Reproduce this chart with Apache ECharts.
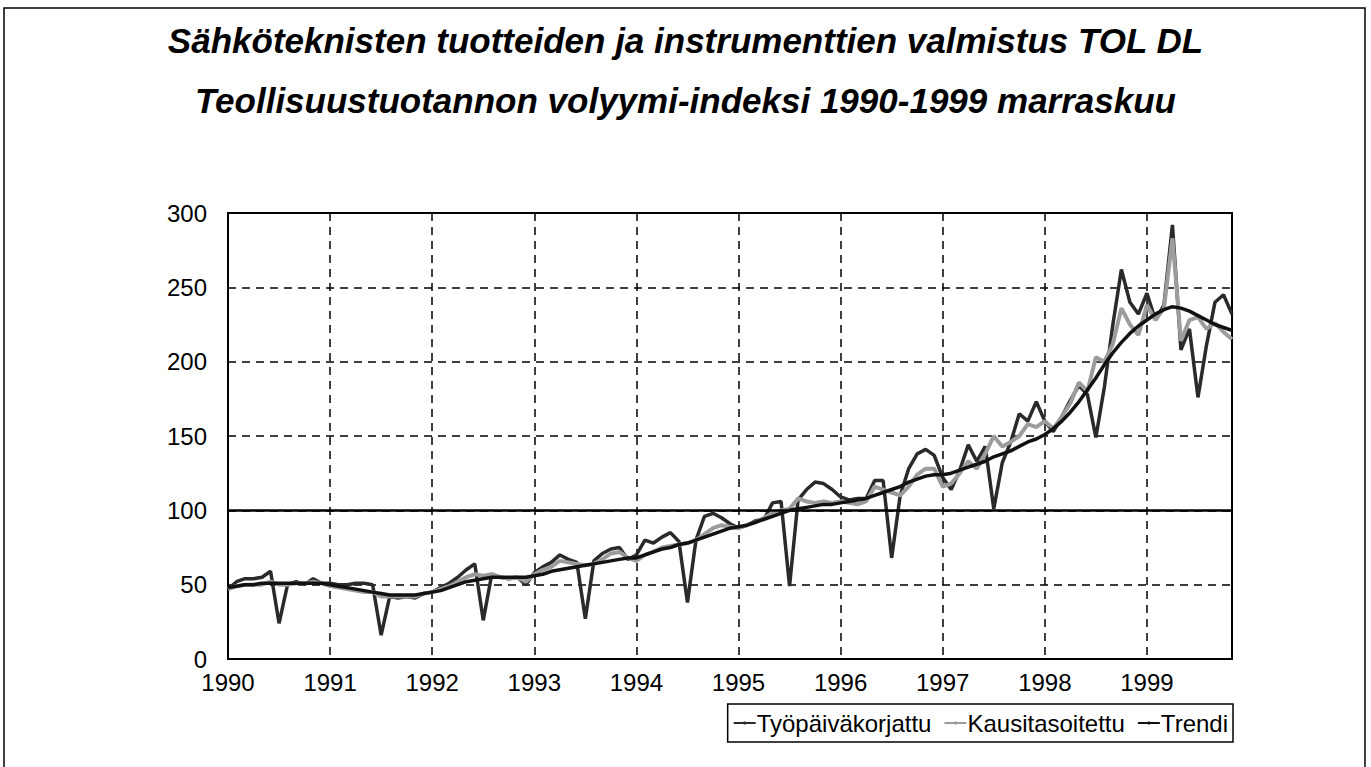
<!DOCTYPE html>
<html>
<head>
<meta charset="utf-8">
<script src="https://cdn.jsdelivr.net/npm/echarts@6/dist/echarts.min.js"></script>
<style>
  html, body { margin: 0; padding: 0; background: #fff; }
  #chart { width: 1371px; height: 767px; }
</style>
</head>
<body>
<div id="chart"></div>
<script>
// ---- data ----
const titleLine1 = 'Sähköteknisten tuotteiden ja instrumenttien valmistus TOL DL';
const titleLine2 = 'Teollisuustuotannon volyymi-indeksi 1990-1999 marraskuu';
const yearLabels = ['1990','1991','1992','1993','1994','1995','1996','1997','1998','1999'];
const monthsInLastYear = 11; // data ends November 1999
const seriesNames = ['Työpäiväkorjattu', 'Kausitasoitettu', 'Trendi'];
const yTicks = [0, 50, 100, 150, 200, 250, 300];

const tyopaivakorjattu = [
  47, 52, 54, 54, 55, 59, 24, 50, 52, 50, 54, 51,
  51, 50, 50, 51, 51, 50, 16, 42, 41, 42, 41, 44,
  45, 48, 51, 55, 60, 64, 26, 57, 55, 54, 55, 50,
  58, 62, 65, 70, 67, 65, 27, 66, 71, 74, 75, 67,
  70, 80, 78, 82, 85, 79, 38, 80, 96, 98, 95, 91,
  88, 90, 93, 94, 105, 106, 49, 107, 114, 119, 118, 114,
  109, 107, 108, 108, 120, 120, 68, 110, 128, 138, 141, 137,
  122, 114, 127, 144, 133, 143, 101, 132, 146, 165, 160, 173,
  160, 153, 163, 174, 184, 178, 149, 183, 225, 262, 240, 232,
  246, 228, 238, 292, 208, 222, 176, 211, 240, 245, 232
];
const kausitasoitettu = [
  47, 49, 50, 50, 50, 52, 50, 50, 51, 51, 52, 51,
  49, 48, 47, 46, 45, 45, 42, 42, 42, 42, 42, 44,
  45, 47, 49, 52, 55, 57, 56, 57, 55, 54, 55, 52,
  57, 60, 62, 66, 65, 64, 63, 64, 67, 71, 72, 68,
  66, 70, 72, 75, 76, 77, 78, 80, 84, 88, 90, 89,
  88, 90, 92, 95, 98, 100, 101, 108, 106, 105, 106, 105,
  106, 105, 104, 106, 116, 114, 112, 110, 116, 124, 128, 128,
  116, 118, 125, 133, 128, 138, 150, 143, 146, 150, 158, 156,
  160, 155, 163, 172, 186, 180, 203, 200, 212, 236, 225, 218,
  238, 228, 236, 283, 214, 228, 230, 222, 226, 220, 215
];
const trendi = [
  48, 49, 50, 50, 51, 51, 51, 51, 51, 51, 51, 51,
  50, 49, 48, 47, 46, 45, 44, 43, 43, 43, 43, 44,
  45, 46, 48, 50, 52, 53, 54, 55, 55, 55, 55, 55,
  56, 57, 59, 60, 61, 62, 63, 64, 65, 66, 67, 68,
  68, 70, 72, 74, 75, 77, 78, 80, 82, 84, 86, 88,
  89, 90, 92, 94, 96, 98, 100, 101, 102, 103, 104, 104,
  105, 106, 107, 108, 110, 112, 114, 116, 119, 121, 123, 124,
  124, 125, 127, 129, 131, 133, 136, 138, 140, 143, 146, 148,
  151, 155, 160, 166, 173, 181, 189, 198, 206, 213, 219, 224,
  228, 232, 235, 237, 236, 234, 231, 228, 225, 223, 221
];

// monthly categories built from the year labels
const categories = [];
yearLabels.forEach((y, yi) => {
  const n = yi === yearLabels.length - 1 ? monthsInLastYear : 12;
  for (let m = 1; m <= n; m++) categories.push(y + '-' + String(m).padStart(2, '0'));
});

// ---- chart ----
const FONT = "'Liberation Sans', Arial, sans-serif";
const chart = echarts.init(document.getElementById('chart'), null, { renderer: 'svg' });

const option = {
  backgroundColor: '#fff',
  animation: false,
  title: [
    { text: titleLine1, left: 'center', top: 18,
      textStyle: { fontFamily: FONT, fontStyle: 'italic', fontWeight: 'bold', fontSize: 35, color: '#000' } },
    { text: titleLine2, left: 'center', top: 78,
      textStyle: { fontFamily: FONT, fontStyle: 'italic', fontWeight: 'bold', fontSize: 35, color: '#000' } }
  ],
  graphic: [
    { type: 'rect', silent: true, shape: { x: 4, y: 8, width: 1361, height: 800 },
      style: { fill: 'none', stroke: '#000', lineWidth: 1.5 } }
  ],
  legend: {
    data: seriesNames,
    right: 138, top: 704,
    orient: 'horizontal',
    borderColor: '#000', borderWidth: 1.5, borderRadius: 0,
    padding: [7, 5, 7, 5],
    itemGap: 12,
    itemWidth: 22, itemHeight: 4,
    textStyle: { fontFamily: FONT, fontSize: 24, color: '#000', padding: [0, 0, 0, -4] }
  },
  grid: {
    left: 228, right: 139, top: 213, bottom: 108,
    show: true, borderColor: '#000', borderWidth: 2, backgroundColor: 'transparent'
  },
  xAxis: {
    type: 'category',
    data: categories,
    boundaryGap: false,
    axisLine: { show: false },
    axisTick: { show: false },
    axisLabel: {
      interval: (i) => i % 12 === 0,
      formatter: (v) => v.slice(0, 4),
      fontFamily: FONT, fontSize: 24, color: '#000', margin: 11, lineHeight: 24
    },
    splitLine: {
      show: true,
      interval: (i) => i % 12 === 0 && i > 0,
      lineStyle: { color: '#000', type: [8, 6], width: 1.5 }
    }
  },
  yAxis: {
    type: 'value',
    min: yTicks[0], max: yTicks[yTicks.length - 1], interval: 50,
    axisLine: { show: false },
    axisTick: { show: false },
    axisLabel: { fontFamily: FONT, fontSize: 24, color: '#000', margin: 21, lineHeight: 20 },
    splitLine: { show: true, lineStyle: { color: '#000', type: [8, 6], width: 1.5 } }
  },
  series: [
    {
      name: seriesNames[0], type: 'line', data: tyopaivakorjattu,
      showSymbol: false, symbol: 'none',
      lineStyle: { color: '#2a2a2a', width: 3.5 },
      itemStyle: { color: '#2a2a2a' },
      markLine: {
        silent: true, symbol: 'none', label: { show: false },
        lineStyle: { color: '#000', type: 'solid', width: 2.5 },
        data: [{ yAxis: 100 }]
      },
      z: 3
    },
    {
      name: seriesNames[1], type: 'line', data: kausitasoitettu,
      showSymbol: false, symbol: 'none',
      lineStyle: { color: '#9c9c9c', width: 4 },
      itemStyle: { color: '#9c9c9c' },
      z: 4
    },
    {
      name: seriesNames[2], type: 'line', data: trendi,
      showSymbol: false, symbol: 'none',
      lineStyle: { color: '#111', width: 3.5 },
      itemStyle: { color: '#111' },
      z: 5
    }
  ]
};
chart.setOption(option);
</script>
</body>
</html>
